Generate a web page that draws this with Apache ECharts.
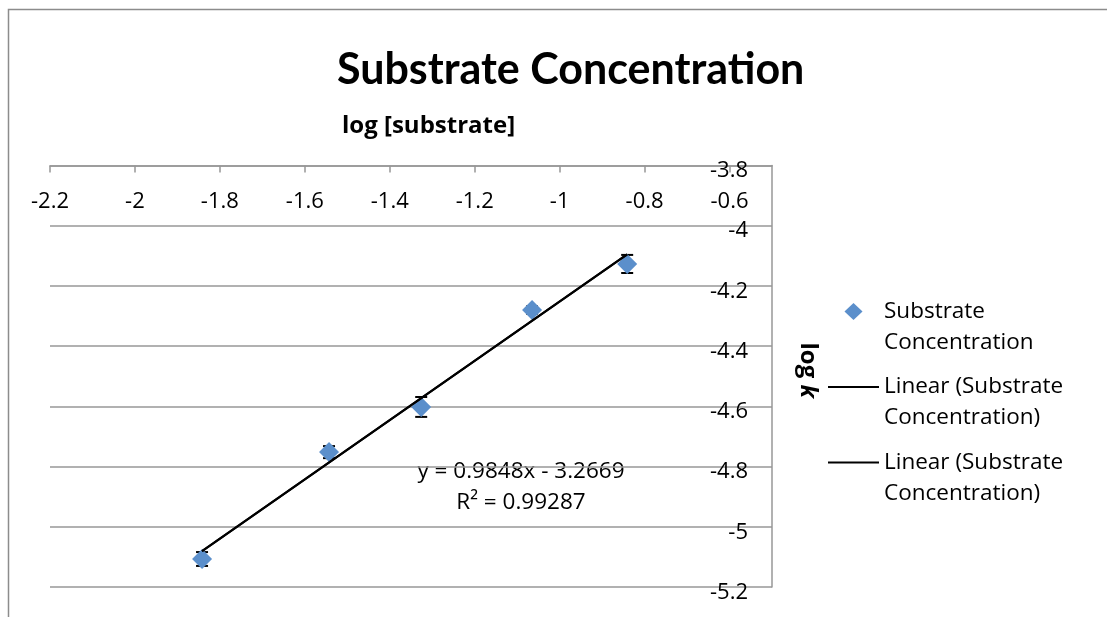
<!DOCTYPE html>
<html>
<head>
<meta charset="utf-8">
<script src="https://cdn.jsdelivr.net/npm/echarts@6/dist/echarts.min.js"></script>
<style>
html, body { margin: 0; padding: 0; background: #fff; }
#chart { width: 1107px; height: 617px; }
</style>
</head>
<body>
<div id="chart"></div>
<script>
// values
var logSubstrate = [-1.842, -1.543, -1.326, -1.065, -0.841];
var logK = [-5.107, -4.752, -4.602, -4.280, -4.127];
var logKError = [0.023, 0.020, 0.033, 0.012, 0.030];

// Excel linear trendline shown on the chart
var fitSlope = 0.9848;
var fitIntercept = -3.2669;
var fitR2 = 0.99287;

var xRange = [-2.2, -0.5];
var yRange = [-5.2, -3.8];
var tickStep = 0.2;

// leading blank line keeps the icon level with the first text line
var legendLabels = {
    'Substrate Concentration': '\nSubstrate\nConcentration',
    'trend1': '\nLinear (Substrate\nConcentration)',
    'trend2': '\nLinear (Substrate\nConcentration)'
};

var font = '"Open Sans"';
var gridGray = '#979797';
var lineIcon = 'path://M0,0L51,0L51,2L0,2Z';
var diamondIcon = 'path://M9,0L18,8.5L9,17L0,8.5Z';

var points = [];
var bars = [];
for (var i = 0; i < logSubstrate.length; i++) {
    points.push([logSubstrate[i], logK[i]]);
    bars.push([logSubstrate[i], logK[i] - logKError[i], logK[i] + logKError[i]]);
}
var xFirst = logSubstrate[0], xLast = logSubstrate[logSubstrate.length - 1];
var trend = [
    [xFirst, fitSlope * xFirst + fitIntercept],
    [xLast, fitSlope * xLast + fitIntercept]
];

var chart = echarts.init(document.getElementById('chart'));

var option = {
    backgroundColor: '#fff',
    animation: false,
    title: {
        text: 'Substrate Concentration',
        left: 332,
        top: 44,
        textStyle: { fontFamily: 'Lato', fontWeight: 'bold', fontSize: 43, color: '#000' }
    },
    legend: {
        orient: 'vertical',
        left: 828,
        top: 265,
        padding: 0,
        itemWidth: 51,
        itemHeight: 17,
        itemGap: -17.5,
        symbolKeepAspect: true,
        data: [
            { name: 'Substrate Concentration', icon: diamondIcon },
            { name: 'trend1', icon: lineIcon },
            { name: 'trend2', icon: lineIcon }
        ],
        formatter: function (name) { return legendLabels[name]; },
        textStyle: { fontFamily: font, fontSize: 22.5, color: '#000', lineHeight: 31 }
    },
    graphic: [
        {
            type: 'rect', silent: true, z: -10,
            shape: { x: 8.5, y: 9.5, width: 1300, height: 800 },
            style: { fill: 'none', stroke: '#8c8c8c', lineWidth: 1.5 }
        },
        {
            type: 'text', left: 342, top: 114,
            style: { text: 'log [substrate]', fontFamily: font, fontWeight: 'bold', fontSize: 24, fill: '#000' }
        },
        {
            type: 'text', x: 521, y: 472,
            style: {
                text: 'y = ' + fitSlope + 'x - ' + Math.abs(fitIntercept),
                fontFamily: font, fontSize: 22.5, fill: '#000', align: 'center', verticalAlign: 'middle'
            }
        },
        {
            type: 'text', x: 521, y: 503,
            style: {
                text: 'R\u00b2 = ' + fitR2,
                fontFamily: font, fontSize: 22.5, fill: '#000', align: 'center', verticalAlign: 'middle'
            }
        }
    ],
    grid: {
        left: 50, right: 335, top: 165.5, bottom: 30,
        containLabel: false, outerBoundsMode: 'none'
    },
    xAxis: {
        type: 'value',
        position: 'top',
        min: xRange[0], max: xRange[1], interval: tickStep,
        axisLine: { show: true, onZero: false, lineStyle: { color: gridGray, width: 1.5 } },
        axisTick: { show: true, inside: true, length: 7, lineStyle: { color: gridGray, width: 1.5 } },
        axisLabel: {
            inside: true, margin: 25, showMaxLabel: false,
            fontFamily: font, fontSize: 22, color: '#000',
            formatter: function (v) { return v > -0.55 ? '' : String(+v.toFixed(1)); }
        },
        splitLine: { show: false }
    },
    yAxis: {
        type: 'value',
        position: 'right',
        min: yRange[0], max: yRange[1], interval: tickStep,
        name: '{n|log }{k|k}',
        nameLocation: 'middle',
        nameRotate: -90,
        nameGap: 24,
        nameTextStyle: {
            padding: [0, 12, 0, 0],
            rich: {
                n: { fontFamily: font, fontWeight: 'bold', fontSize: 24, color: '#000' },
                k: { fontFamily: font, fontWeight: 'bold', fontStyle: 'italic', fontSize: 24, color: '#000' }
            }
        },
        axisLine: { show: true, onZero: false, lineStyle: { color: gridGray, width: 1.5 } },
        axisTick: { show: false },
        axisLabel: {
            inside: true, margin: 24,
            formatter: function (v) { return '{v|' + (+v.toFixed(1)) + '}'; },
            rich: {
                v: { fontFamily: font, fontSize: 22, color: '#000', padding: [11, 0, 0, 0] }
            }
        },
        splitLine: { show: true, lineStyle: { color: gridGray, width: 1.5 } }
    },
    series: [
        {
            name: 'errorBars',
            type: 'custom',
            z: 2,
            data: bars,
            renderItem: function (params, api) {
                var lo = api.coord([api.value(0), api.value(1)]);
                var hi = api.coord([api.value(0), api.value(2)]);
                var w = 6;
                var st = { stroke: '#000', lineWidth: 2 };
                return {
                    type: 'group',
                    children: [
                        { type: 'line', shape: { x1: lo[0], y1: lo[1], x2: hi[0], y2: hi[1] }, style: st },
                        { type: 'line', shape: { x1: lo[0] - w, y1: lo[1], x2: lo[0] + w, y2: lo[1] }, style: st },
                        { type: 'line', shape: { x1: hi[0] - w, y1: hi[1], x2: hi[0] + w, y2: hi[1] }, style: st }
                    ]
                };
            }
        },
        {
            name: 'Substrate Concentration',
            type: 'scatter',
            z: 3,
            symbol: 'diamond',
            symbolSize: 20,
            itemStyle: { color: '#5b8fcb', opacity: 1 },
            data: points
        },
        {
            name: 'trend1',
            type: 'line',
            z: 4,
            symbol: 'none',
            lineStyle: { color: '#000', width: 2 },
            itemStyle: { color: '#000' },
            data: trend
        },
        {
            name: 'trend2',
            type: 'line',
            z: 4,
            symbol: 'none',
            lineStyle: { color: '#000', width: 2 },
            itemStyle: { color: '#000' },
            data: trend
        }
    ]
};

chart.setOption(option);
</script>
</body>
</html>
